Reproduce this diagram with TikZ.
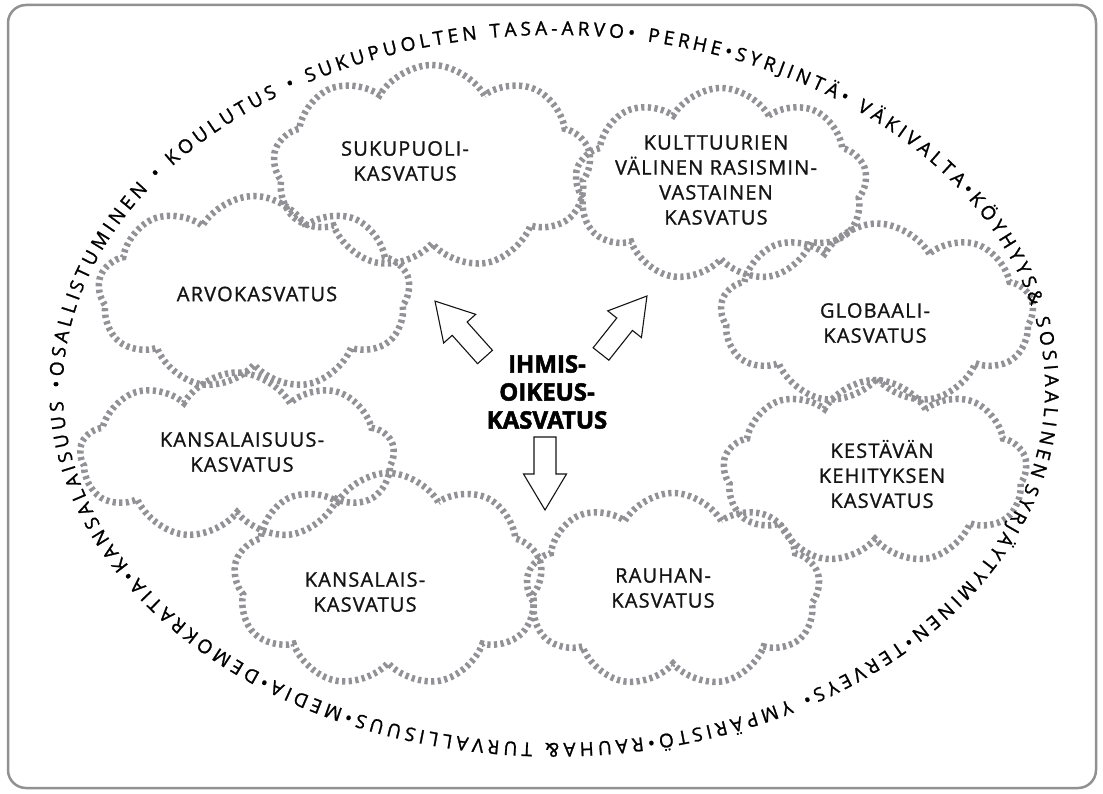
\documentclass[tikz,border=0pt]{standalone}
\usepackage{fontspec}
\setmainfont{Open Sans}
\newfontfamily\lblfont{Open Sans}[LetterSpace=6, FakeBold=1.2]
\newfontfamily\ringfont{Open Sans}[FakeBold=1.2]
\newfontfamily\hubfont{Open Sans}[BoldFeatures={FakeBold=2}]
\usetikzlibrary{shapes.symbols,decorations.text}
\definecolor{cloudgray}{RGB}{145,145,150}
\definecolor{framegray}{RGB}{145,145,145}
\definecolor{ink}{RGB}{20,20,20}
\begin{document}
\begin{tikzpicture}[x=1pt,y=-1pt,
  cloudbox/.style={cloud, cloud puffs=9, cloud puff arc=120, cloud ignores aspect,
    draw=cloudgray, line width=6.5pt, dash pattern=on 3.2pt off 3.4pt, inner sep=0pt},
  lbl/.style={font=\lblfont\fontsize{20}{25}\selectfont, align=center, text=ink, inner sep=0pt},
  hub/.style={font=\hubfont\bfseries\fontsize{24}{28}\selectfont, align=center, text=black, inner sep=0pt},
  blockarrow/.style={draw=ink, line width=1.1pt, fill=white, line join=miter},
  framebox/.style={draw=framegray, line width=2.5pt, rounded corners=18pt}
]
\useasboundingbox (0,0) rectangle (1103,794);
\draw[framebox] (8,5) rectangle (1096,788);

% clouds
\node[cloudbox, minimum width=318, minimum height=204] (c1) at (432,167) {};
\node[cloudbox, minimum width=292, minimum height=194] (c2) at (721,185) {};
\node[cloudbox, minimum width=312, minimum height=194] (c3) at (254,293) {};
\node[cloudbox, minimum width=313, minimum height=181] (c4) at (877,314) {};
\node[cloudbox, minimum width=314, minimum height=167] (c5) at (237,456) {};
\node[cloudbox, minimum width=304, minimum height=184] (c6) at (875,472) {};
\node[cloudbox, minimum width=309, minimum height=214] (c7) at (388,580) {};
\node[cloudbox, minimum width=294, minimum height=194] (c8) at (673,590) {};

% labels
\node[lbl] (t1) at (405,161) {SUKUPUOLI-\\KASVATUS};
\node[lbl] (t2) at (716,180) {KULTTUURIEN\\VÄLINEN RASISMIN-\\VASTAINEN\\KASVATUS};
\node[lbl] (t3) at (257,294) {ARVOKASVATUS};
\node[lbl] (t4) at (875,323) {GLOBAALI-\\KASVATUS};
\node[lbl] (t5) at (242,452) {KANSALAISUUS-\\KASVATUS};
\node[lbl] (t6) at (882,474) {KESTÄVÄN\\KEHITYKSEN\\KASVATUS};
\node[lbl] (t7) at (365,592) {KANSALAIS-\\KASVATUS};
\node[lbl] (t8) at (663,588) {RAUHAN-\\KASVATUS};

% hub
\node[hub] (hub) at (547,392) {IHMIS-\\OIKEUS-\\KASVATUS};

% block arrows
\draw[blockarrow, shift={(485,357)}, rotate=131.8]
  (0,-10) -- (38,-10) -- (38,-21.5) -- (75,0) -- (38,21.5) -- (38,10) -- (0,10) -- cycle;
\draw[blockarrow, shift={(601,354)}, rotate=51.6]
  (0,-10) -- (38,-10) -- (38,-21.5) -- (74,0) -- (38,21.5) -- (38,10) -- (0,10) -- cycle;
\draw[blockarrow, shift={(545,437)}, rotate=-90]
  (0,-11) -- (37,-11) -- (37,-21.5) -- (73,0) -- (37,21.5) -- (37,11) -- (0,11) -- cycle;

% ring text
\coordinate (ringc) at (554,389);
\path[decorate, decoration={text along path, text align={fit to path},
  text={|\ringfont\fontsize{19}{22}\selectfont|SYRJÄYTYMINEN•TERVEYS• YMPÄRISTÖ•RAUHA{\&} TURVALLISUUS•MEDIA•DEMOKRATIA•KANSALAISUUS •OSALLISTUMINEN • KOULUTUS • SUKUPUOLTEN TASA-ARVO• PERHE•SYRJINTÄ• VÄKIVALTA•KÖYHYYS{\&} SOSIAALINEN}}]
  (ringc) ++(15.4:491 and 354) arc[start angle=15.4, end angle=374, x radius=491, y radius=354];
\end{tikzpicture}
\end{document}
